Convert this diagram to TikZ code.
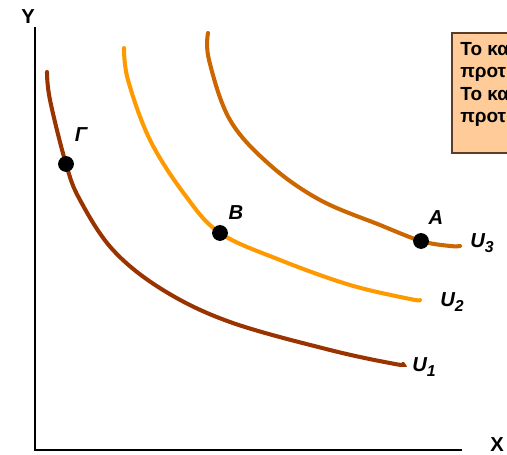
\documentclass[tikz,border=0pt]{standalone}
\usepackage{fontspec}
\setmainfont{Liberation Sans}
\usetikzlibrary{arrows.meta,positioning}
\definecolor{curvelow}{RGB}{153,51,0}
\definecolor{curvemid}{RGB}{255,153,0}
\definecolor{curvehigh}{RGB}{204,102,0}
\definecolor{notefill}{RGB}{255,204,153}
\definecolor{noteline}{RGB}{90,60,40}
\newcommand{\ulab}[1]{U\raisebox{-0.45ex}{\fontsize{9}{10}\selectfont #1}}

\begin{document}
\begin{tikzpicture}[x=0.02cm, y=-0.02cm, >=Stealth,
    axisline/.style={line width=1.2pt, black},
    indiff/.style={line width=2.3pt, line cap=round},
    basket/.style={circle, fill=black, inner sep=0pt, minimum size=9pt},
    ptlabel/.style={font=\fontsize{11.5}{13}\selectfont\bfseries\itshape},
    axlabel/.style={font=\fontsize{11.5}{13}\selectfont\bfseries},
    infobox/.style={draw=noteline, fill=notefill, line width=0.8pt},
    notetext/.style={align=left, inner sep=0pt, font=\fontsize{10.8}{12.7}\selectfont\bfseries}]
    \useasboundingbox (0,0) rectangle (507,455);
    % axes
    \coordinate (origin) at (35,450);
    \coordinate (ytop) at (35,27);
    \coordinate (xend) at (462,450);
    \draw[axisline] (ytop) -- (origin) -- (xend);
    \node[axlabel] (ylab) at (28,17) {Y};
    \node[axlabel] (xlab) at (497,445) {X};
    % indifference curves
    \draw[indiff, curvelow] plot[smooth, tension=0.6] coordinates
      {(47,72) (50,100) (66,164) (80,200) (113,250) (163,290) (230,322) (330,350) (395,364) (403,364)};
    \draw[indiff, curvemid] plot[smooth, tension=0.6] coordinates
      {(124,48) (128,80) (150,140) (185,195) (220,233) (280,260) (350,285) (410,299) (420,300)};
    \draw[indiff, curvehigh] plot[smooth, tension=0.6] coordinates
      {(208,33) (209,60) (230,120) (270,165) (320,200) (380,225) (421,241) (450,246) (460,246)};
    % baskets
    \node[basket] (gamma) at (66,164) {};
    \node[basket] (bb) at (220,233) {};
    \node[basket] (aa) at (421,241) {};
    \node[ptlabel] (gammalab) at (81,135) {Γ};
    \node[ptlabel] (blab) at (236,213) {B};
    \node[ptlabel] (alab) at (436,218) {A};
    % curve labels
    \node[ptlabel] (uthree) at (482,243) {\ulab{3}};
    \node[ptlabel] (utwo) at (452,302) {\ulab{2}};
    \node[ptlabel] (uone) at (424,367) {\ulab{1}};
    % note box
    \draw[infobox] (452,33) rectangle (530,153);
    \node[notetext, anchor=north west] (note) at (460,41)
      {Το καλάθι Α\\προτιμάται από το Β\\Το καλάθι Β\\προτιμάται από το Γ};
\end{tikzpicture}
\end{document}
